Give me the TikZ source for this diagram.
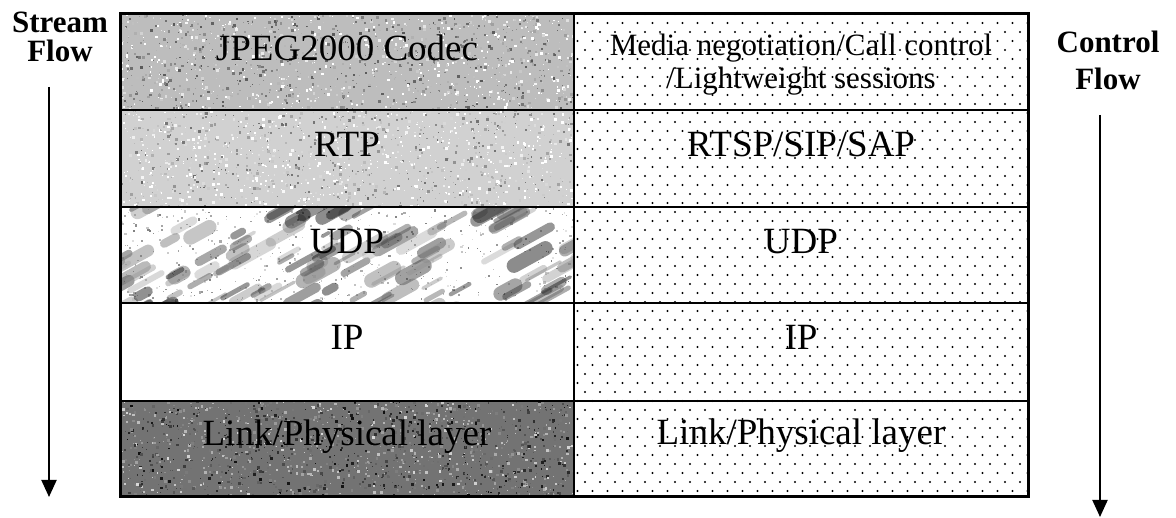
\documentclass[tikz,border=0pt]{standalone}
\usepackage{fontspec}
\setmainfont{Liberation Serif}
\usetikzlibrary{arrows.meta,patterns}

\pgfdeclarepatternformonly{stagdots}{\pgfqpoint{-2pt}{-2pt}}{\pgfqpoint{17pt}{20pt}}{\pgfqpoint{15pt}{18pt}}{%
  \pgfpathcircle{\pgfqpoint{0pt}{0pt}}{1.2pt}%
  \pgfpathcircle{\pgfqpoint{7.5pt}{9pt}}{1.2pt}%
  \pgfusepath{fill}}

\begin{document}
\begin{tikzpicture}[x=1pt,y=-1pt,
  layer/.style={font=\fontsize{37}{40}\selectfont, anchor=base},
  small layer/.style={font=\fontsize{31}{33}\selectfont, anchor=base},
  flowlabel/.style={font=\fontsize{31}{31}\selectfont\bfseries, anchor=base},
  flowarrow/.style={line width=2pt, -{Triangle[length=17pt,width=15pt]}},
  grid line/.style={line width=2.5pt}]
\useasboundingbox (0,0) rectangle (1176,518);
\pgfmathsetseed{2003}

% noisy textures, left column
\foreach \ry/\gr/\n in {14/26/1400,110/18/1300,401/55/1600} {
  \begin{scope}
    \clip (120,\ry) rectangle (574,\ry+97);
    \fill[black!\gr] (120,\ry) rectangle (574,\ry+97);
    \foreach \k in {1,...,\n} {
      \pgfmathsetmacro\sx{120+454*rnd}
      \pgfmathsetmacro\sy{\ry+97*rnd}
      \pgfmathsetmacro\sr{0.6+2.4*rnd}
      \pgfmathsetmacro\sg{max(0,min(100,\gr+80*(rnd-0.5)))}
      \fill[black!\sg] (\sx,\sy) rectangle ++(\sr,\sr);
    }
  \end{scope}
}

% streaks, UDP row
\begin{scope}
  \clip (120,207) rectangle (574,303);
  \foreach \k in {1,...,500} {
    \pgfmathsetmacro\sx{120+454*rnd}
    \pgfmathsetmacro\sy{207+97*rnd}
    \pgfmathsetmacro\sr{0.6+1.8*rnd}
    \pgfmathsetmacro\sg{10+40*rnd}
    \fill[black!\sg] (\sx,\sy) rectangle ++(\sr,\sr);
  }
  \foreach \k in {1,...,140} {
    \pgfmathsetmacro\sx{90+500*rnd}
    \pgfmathsetmacro\sy{207+120*rnd}
    \pgfmathsetmacro\sl{6+30*rnd}
    \pgfmathsetmacro\sw{3+12*rnd}
    \pgfmathsetmacro\sg{30+70*rnd}
    \draw[black!\sg, opacity=0.45, line width=\sw pt, line cap=round] (\sx,\sy) -- ++({\sl},{-0.55*\sl});
  }
\end{scope}

% dotted right column
\fill[pattern=stagdots] (574,14) rectangle (1028,497);

% table
\draw[line width=3pt] (120,14) rectangle (1028,497);
\draw[grid line] (574,14) -- (574,497);
\foreach \y in {110,207,303,401} { \draw[grid line] (120,\y) -- (1028,\y); }

% stream side
\node[layer] (codec) at (347,61) {JPEG2000 Codec};
\node[layer] (rtp) at (347,157) {RTP};
\node[layer] (udpl) at (347,254) {UDP};
\node[layer] (ipl) at (347,350) {IP};
\node[layer] (linkl) at (347,446) {Link/Physical layer};

% control side
\node[small layer] (media) at (801,56) {Media negotiation/Call control};
\node[small layer] (lightw) at (801,89) {/Lightweight sessions};
\node[layer] (rtsp) at (801,157) {RTSP/SIP/SAP};
\node[layer] (udpr) at (801,254) {UDP};
\node[layer] (ipr) at (801,350) {IP};
\node[layer] (linkr) at (801,445) {Link/Physical layer};

% flow labels and arrows
\node[flowlabel] (stream) at (60,33) {Stream};
\node[flowlabel] (sflow) at (60,62) {Flow};
\node[flowlabel] (control) at (1108,53) {Control};
\node[flowlabel] (cflow) at (1108,90) {Flow};
\coordinate (stop) at (49,87);
\coordinate (send) at (49,497);
\coordinate (ctop) at (1100,115);
\coordinate (cend) at (1100,517);
\draw[flowarrow] (stop) -- (send);
\draw[flowarrow] (ctop) -- (cend);
\end{tikzpicture}
\end{document}
